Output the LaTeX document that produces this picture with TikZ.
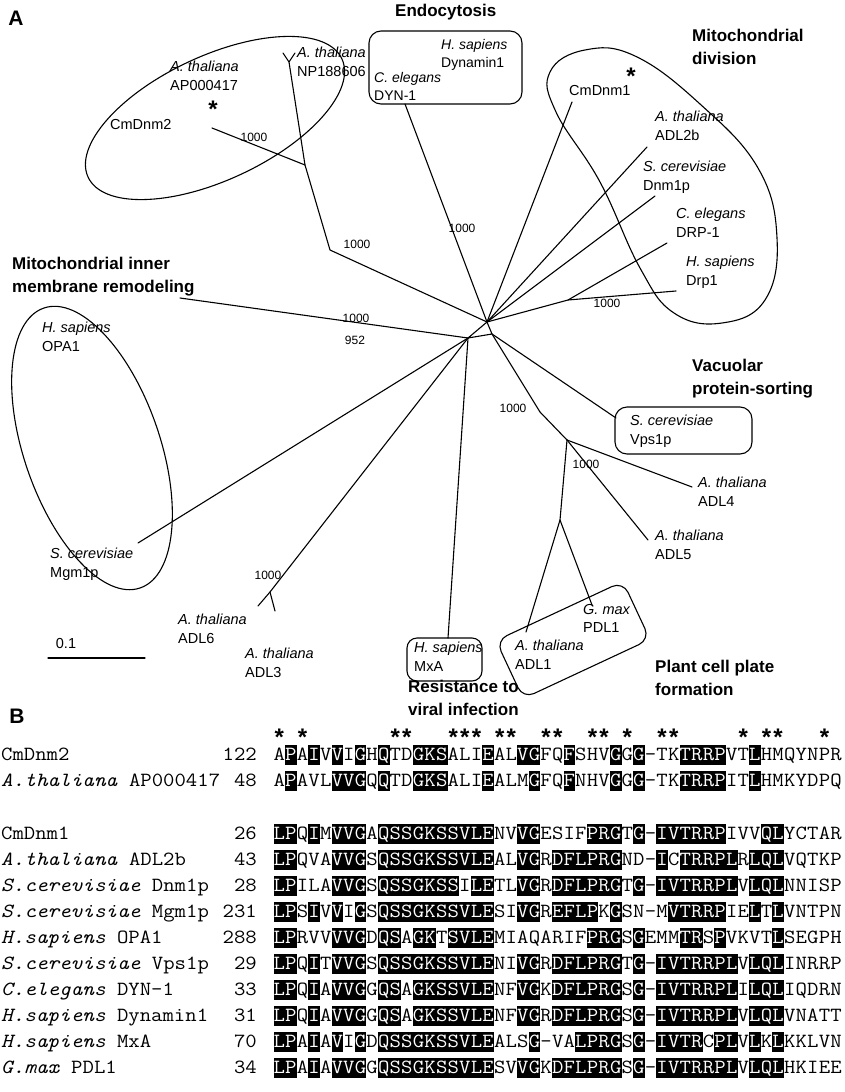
\documentclass[tikz,border=0pt]{standalone}
\usepackage{fontspec}
\setmainfont{Liberation Sans}
\tikzset{
  br/.style={line width=1.1pt, line cap=round, line join=round},
  grp/.style={line width=1.1pt},
  lbl/.style={anchor=north west, inner sep=0pt, align=left, font=\fontsize{14.5}{18.5}\selectfont},
  lbs/.style={anchor=north west, inner sep=0pt, align=left, font=\fontsize{14}{18}\selectfont},
  ttl/.style={anchor=north west, inner sep=0pt, align=left, font=\bfseries\fontsize{17}{23}\selectfont},
  bsv/.style={inner sep=0pt, font=\fontsize{12}{12}\selectfont},
  pnl/.style={inner sep=0pt, font=\bfseries\fontsize{21}{21}\selectfont},
  seqf/.style={inner sep=0pt, font=\ttfamily\fontsize{20.1}{21}\selectfont},
  astf/.style={inner sep=0pt, anchor=base, font=\bfseries\fontsize{24}{24}\selectfont},
}
\newcommand\Sq[1]{\scalebox{1.1}[1]{#1}}
\newcount\SqCol
\def\SqLoop#1{\ifx\relax#1\else
  \global\advance\SqCol by 1
  \node[seqf, anchor=base, text=\SqC] at ({273.5+(\the\SqCol-0.5)*11.6},\SqY) {\Sq{#1}};%
  \expandafter\SqLoop\fi}
\newcommand\PutSeq[3]{\global\SqCol=0 \def\SqY{#1}\def\SqC{#2}\SqLoop#3\relax}
\newcommand\AlRow[5]{%
  \node[seqf, anchor=base west] at (1,#1+5.5) {\Sq{#2}};
  \node[seqf, anchor=base east] at (257,#1+5.5) {\Sq{#3}};
  \foreach \a/\b in {#5} {\fill ({273.5+(\a-1)*11.6},#1-10) rectangle ({273.5+\b*11.6},#1+10);}
  \PutSeq{#1+5.5}{black}{#4}
  \begin{scope}
    \clip \foreach \a/\b in {#5} {({273.5+(\a-1)*11.6},#1-10) rectangle ({273.5+\b*11.6},#1+10)};
    \PutSeq{#1+5.5}{white}{#4}
  \end{scope}
}
\begin{document}
\begin{tikzpicture}[x=1pt,y=-1pt]
\useasboundingbox (0,0) rectangle (844,1092);
\fill[white] (0,0) rectangle (844,1092);

% ---------------- panel A ----------------
\node[pnl] (pA) at (16,18) {A};

% hub and internal nodes
\coordinate (c1) at (487,322);
\coordinate (c2) at (468,338);
\coordinate (c3) at (492,334);
\coordinate (n1) at (330,250);
\coordinate (n2) at (305,165);
\coordinate (f1) at (289,62);
\coordinate (n4) at (568,300);
\coordinate (n5) at (540,412);
\coordinate (n6) at (567,440);
\coordinate (n8) at (560,520);
\coordinate (n9) at (270,592);
% leaves
\coordinate (lCmDnm2) at (212,128);
\coordinate (lAPa) at (283,53);
\coordinate (lAPb) at (295,53);
\coordinate (lDyn) at (405,104);
\coordinate (lCmDnm1) at (572,102);
\coordinate (lADL2b) at (647,147);
\coordinate (lDnm1p) at (655,196);
\coordinate (lDRP1) at (667,243);
\coordinate (lDrp1) at (676,291);
\coordinate (lVps) at (616,418);
\coordinate (lADL4) at (692,487);
\coordinate (lADL5) at (648,540);
\coordinate (lPDL1) at (592,605);
\coordinate (lADL1) at (526,632);
\coordinate (lMxA) at (448,638);
\coordinate (lADL6) at (258,606);
\coordinate (lADL3) at (275,611);
\coordinate (lMgm) at (138,543);
\coordinate (lOPA) at (180,298);

\draw[br] (c2) -- (c1) -- (c3) -- cycle;
\draw[br] (c1) -- (n1) -- (n2) -- (lCmDnm2);
\draw[br] (n2) -- (f1) -- (lAPa);
\draw[br] (f1) -- (lAPb);
\draw[br] (c1) -- (lDyn);
\draw[br] (c1) -- (lCmDnm1);
\draw[br] (c1) -- (lADL2b);
\draw[br] (c1) -- (lDnm1p);
\draw[br] (c1) -- (n4) -- (lDrp1);
\draw[br] (n4) -- (lDRP1);
\draw[br] (c3) -- (lVps);
\draw[br] (c3) -- (n5) -- (n6) -- (lADL4);
\draw[br] (n6) -- (n8) -- (lPDL1);
\draw[br] (n8) -- (lADL1);
\draw[br] (n6) -- (lADL5);
\draw[br] (c2) -- (lMxA);
\draw[br] (c2) -- (n9) -- (lADL6);
\draw[br] (n9) -- (lADL3);
\draw[br] (c2) -- (lMgm);
\draw[br] (c2) -- (lOPA);

% bootstrap values
\node[bsv] (b1) at (357,244) {1000};
\node[bsv] (b2) at (254,137) {1000};
\node[bsv] (b3) at (462,228) {1000};
\node[bsv] (b4) at (607,303) {1000};
\node[bsv] (b5) at (356,318) {1000};
\node[bsv] (b6) at (355,340) {952};
\node[bsv] (b7) at (513,408) {1000};
\node[bsv] (b8) at (586,464) {1000};
\node[bsv] (b9) at (268,575) {1000};

% group outlines
\draw[grp] (215,118) ellipse [x radius=140pt, y radius=62pt, rotate=25];
\draw[grp] (92,448) ellipse [x radius=68pt, y radius=148pt, rotate=19];
\draw[grp] plot[smooth cycle, tension=0.7] coordinates {(550,72) (585,50) (635,56) (700,104) (758,168) (777,238) (765,300) (722,323) (674,313) (640,268) (600,182) (556,112)};
\draw[grp, rounded corners=12pt] (369,31) rectangle (522,104);
\draw[grp, rounded corners=12pt] (615,407) rectangle (752,454);
\draw[grp, rounded corners=10pt] (407,638) rectangle (482,681);
\draw[grp, rounded corners=12pt, rotate around={25:(573,640)}] (503,608) rectangle (643,672);

% titles
\node[ttl] (tEndo) at (395,4) {Endocytosis};
\node[ttl] (tMd) at (692,29) {Mitochondrial\\division};
\node[ttl] (tMi) at (12,257) {Mitochondrial inner\\membrane remodeling};
\node[ttl] (tVac) at (692,359) {Vacuolar\\protein-sorting};
\node[ttl] (tPl) at (655,660) {Plant cell plate\\formation};
\node[ttl] (tRv) at (408,680) {Resistance to\\viral infection};

% leaf labels
\node[lbl] (xNP) at (297,47) {\textit{A. thaliana}\\NP188606};
\node[lbl] (xAP) at (170,61) {\textit{A. thaliana}\\AP000417};
\node[lbl] (xCm2) at (110,119) {CmDnm2};
\node[astf] (aCm2) at (213,117) {*};
\node[lbs] (xHs1) at (441,39) {\textit{H. sapiens}\\Dynamin1};
\node[lbs] (xCe1) at (374,72) {\textit{C. elegans}\\DYN-1};
\node[lbl] (xCm1) at (569,85) {CmDnm1};
\node[astf] (aCm1) at (631,84) {*};
\node[lbl] (xADL2b) at (655,111) {\textit{A. thaliana}\\ADL2b};
\node[lbl] (xDnm) at (643,161) {\textit{S. cerevisiae}\\Dnm1p};
\node[lbl] (xDRP) at (676,208) {\textit{C. elegans}\\DRP-1};
\node[lbl] (xDrp) at (686,256) {\textit{H. sapiens}\\Drp1};
\node[lbl] (xVps) at (630,415) {\textit{S. cerevisiae}\\Vps1p};
\node[lbl] (xADL4) at (698,477) {\textit{A. thaliana}\\ADL4};
\node[lbl] (xADL5) at (655,530) {\textit{A. thaliana}\\ADL5};
\node[lbl] (xPDL) at (583,604) {\textit{G. max}\\PDL1};
\node[lbl] (xADL1) at (515,640) {\textit{A. thaliana}\\ADL1};
\node[lbl] (xMxA) at (414,642) {\textit{H. sapiens}\\MxA};
\node[lbl] (xADL6) at (178,614) {\textit{A. thaliana}\\ADL6};
\node[lbl] (xADL3) at (245,648) {\textit{A. thaliana}\\ADL3};
\node[lbl] (xOPA) at (42,322) {\textit{H. sapiens}\\OPA1};
\node[lbl] (xMgm) at (50,548) {\textit{S. cerevisiae}\\Mgm1p};

% scale bar
\coordinate (sb1) at (48,658);
\coordinate (sb2) at (145,658);
\draw[br] (sb1) -- (sb2);
\node[lbl, anchor=center] (sbt) at (66,643) {0.1};

% ---------------- panel B ----------------
\node[pnl] (pB) at (17,716) {B};
\foreach \n in {1,3,11,12,16,17,18,20,21,24,25,28,29,31,34,35,41,43,44,48}
  \node[astf] at ({273.5+(\n-0.5)*11.6},745) {*};

\AlRow{755}{CmDnm2}{122}{APAIVVIGHQTDGKSALIEALVGFQFSHVGGG-TKTRRPVTLHMQYNPR}{2/2,4/4,6/6,8/8,10/10,13/15,19/19,22/23,26/26,30/30,32/32,36/39,42/42}
\AlRow{781}{\textit{A.thaliana} AP000417}{48}{APAVLVVGQQTDGKSALIEALMGFQFNHVGGG-TKTRRPITLHMKYDPQ}{2/2,6/8,10/10,13/15,19/19,23/23,26/26,30/30,32/32,36/39,42/42}
\AlRow{834}{CmDnm1}{26}{LPQIMVVGAQSSGKSSVLENVVGESIFPRGTG-IVTRRPIVVQLYCTAR}{1/2,4/4,6/8,10/19,22/23,28/30,32/32,34/39,43/44}
\AlRow{860}{\textit{A.thaliana} ADL2b}{43}{LPQVAVVGSQSSGKSSVLEALVGRDFLPRGND-ICTRRPLRLQLVQTKP}{1/2,6/8,10/19,22/23,25/30,34/34,36/40,42/44}
\AlRow{886}{\textit{S.cerevisiae} Dnm1p}{28}{LPILAVVGSQSSGKSSILETLVGRDFLPRGTG-IVTRRPLVLQLNNISP}{1/2,6/8,10/16,18/19,22/23,25/30,32/32,34/40,42/44}
\AlRow{912}{\textit{S.cerevisiae} Mgm1p}{231}{LPSIVVIGSQSSGKSSVLESIVGREFLPKGSN-MVTRRPIELTLVNTPN}{1/2,4/4,6/6,8/8,10/19,22/23,25/28,30/30,35/39,42/42,44/44}
\AlRow{938}{\textit{H.sapiens} OPA1}{288}{LPRVVVVGDQSAGKTSVLEMIAQARIFPRGSGEMMTRSPVKVTLSEGPH}{1/2,6/8,10/11,13/14,16/19,28/30,32/32,36/37,39/39,44/44}
\AlRow{964}{\textit{S.cerevisiae} Vps1p}{29}{LPQITVVGSQSSGKSSVLENIVGRDFLPRGTG-IVTRRPLVLQLINRRP}{1/2,4/4,6/8,10/19,22/23,25/30,32/32,34/40,42/44}
\AlRow{990}{\textit{C.elegans} DYN-1}{33}{LPQIAVVGGQSAGKSSVLENFVGKDFLPRGSG-IVTRRPLILQLIQDRN}{1/2,4/4,6/8,10/11,13/19,22/23,25/30,32/32,34/40,42/44}
\AlRow{1016}{\textit{H.sapiens} Dynamin1}{31}{LPQIAVVGGQSAGKSSVLENFVGRDFLPRGSG-IVTRRPLVLQLVNATT}{1/2,4/4,6/8,10/11,13/19,22/23,25/30,32/32,34/40,42/44}
\AlRow{1042}{\textit{H.sapiens} MxA}{70}{LPAIAVIGDQSSGKSSVLEALSG-VALPRGSG-IVTRCPLVLKLKKLVN}{1/2,4/4,6/6,8/8,10/19,23/23,27/30,32/32,34/37,39/40,42/42,44/44}
\AlRow{1068}{\textit{G.max} PDL1}{34}{LPAIAVVGGQSSGKSSVLESVVGKDFLPRGSG-IVTRRPLVLQLHKIEE}{1/2,4/4,6/8,10/19,22/23,25/30,32/32,34/40,42/44}
\end{tikzpicture}
\end{document}
